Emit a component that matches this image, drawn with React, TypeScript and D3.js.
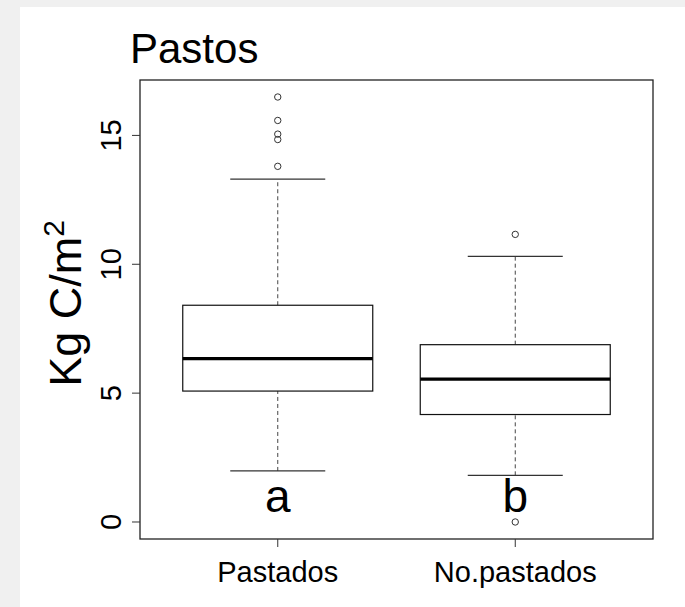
import React, { useEffect, useRef } from "react";
import * as d3 from "d3";

// boxplot summaries
const groups = ["Pastados", "No.pastados"];
const lowWhisker = [1.98, 1.81];
const q1 = [5.08, 4.17];
const medians = [6.34, 5.54];
const q3 = [8.41, 6.88];
const highWhisker = [13.3, 10.31];
const outliers = [
  [13.8, 14.84, 15.05, 15.58, 16.49],
  [0.0, 11.16],
];
const letters = ["a", "b"];
const yTicks = [0, 5, 10, 15];

const W = 685;
const H = 607;
const FONT = "'Liberation Sans', Arial, sans-serif";

const App = () => {
  const svgRef = useRef<SVGSVGElement | null>(null);

  useEffect(() => {
    const svg = d3.select(svgRef.current);
    svg.selectAll("*").remove();

    const margin = { top: 80, right: 32, bottom: 68, left: 140 };
    const left = margin.left;
    const right = W - margin.right;
    const top = margin.top;
    const bottom = H - margin.bottom;

    // outer grey area + white panel
    svg.append("rect").attr("width", W).attr("height", H).attr("fill", "#f0f0f0");
    svg.append("rect").attr("x", 20).attr("y", 7).attr("width", W - 20).attr("height", H - 7).attr("fill", "#fff");

    const x = d3.scaleLinear().domain([0.42, 2.58]).range([left, right]);
    const y = d3.scaleLinear().domain([-0.66, 17.15]).range([bottom, top]);

    const boxW = 0.4;
    const stapleW = 0.2;

    const data = groups.map((g, i) => ({
      key: g,
      pos: i + 1,
      lo: lowWhisker[i],
      q1: q1[i],
      med: medians[i],
      q3: q3[i],
      hi: highWhisker[i],
      out: outliers[i],
      letter: letters[i],
    }));

    const g = svg.append("g");

    data.forEach((d) => {
      const cx = x(d.pos);
      // whiskers
      [[d.lo, d.q1], [d.q3, d.hi]].forEach(([a, b]) => {
        g.append("line")
          .attr("x1", cx).attr("x2", cx)
          .attr("y1", y(a)).attr("y2", y(b))
          .attr("stroke", "#444")
          .attr("stroke-width", 1)
          .attr("stroke-dasharray", "4,3");
      });
      // staples
      [d.lo, d.hi].forEach((v) => {
        g.append("line")
          .attr("x1", x(d.pos - stapleW)).attr("x2", x(d.pos + stapleW))
          .attr("y1", y(v)).attr("y2", y(v))
          .attr("stroke", "#333")
          .attr("stroke-width", 1.2);
      });
      // box
      g.append("rect")
        .attr("x", x(d.pos - boxW))
        .attr("y", y(d.q3))
        .attr("width", x(d.pos + boxW) - x(d.pos - boxW))
        .attr("height", y(d.q1) - y(d.q3))
        .attr("fill", "#fff")
        .attr("stroke", "#111")
        .attr("stroke-width", 1.2);
      // median
      g.append("line")
        .attr("x1", x(d.pos - boxW)).attr("x2", x(d.pos + boxW))
        .attr("y1", y(d.med)).attr("y2", y(d.med))
        .attr("stroke", "#000")
        .attr("stroke-width", 3.3);
      // outliers
      g.selectAll(null)
        .data(d.out)
        .enter()
        .append("circle")
        .attr("cx", cx)
        .attr("cy", (v) => y(v))
        .attr("r", 3.2)
        .attr("fill", "none")
        .attr("stroke", "#333")
        .attr("stroke-width", 1);
      // group letter
      g.append("text")
        .attr("x", cx)
        .attr("y", y(0.38))
        .attr("text-anchor", "middle")
        .style("font-family", FONT)
        .style("font-size", "46px")
        .style("fill", "#000")
        .text(d.letter);
    });

    // frame
    svg.append("rect")
      .attr("x", left).attr("y", top)
      .attr("width", right - left).attr("height", bottom - top)
      .attr("fill", "none")
      .attr("stroke", "#222")
      .attr("stroke-width", 1.3);

    // y axis
    const ya = svg.append("g");
    yTicks.forEach((t) => {
      ya.append("line")
        .attr("x1", left - 8).attr("x2", left)
        .attr("y1", y(t)).attr("y2", y(t))
        .attr("stroke", "#333");
      ya.append("text")
        .attr("transform", `translate(${left - 19}, ${y(t)}) rotate(-90)`)
        .attr("text-anchor", "middle")
        .style("font-family", FONT)
        .style("font-size", "29px")
        .style("fill", "#000")
        .text(t);
    });

    // x axis
    const xa = svg.append("g");
    data.forEach((d) => {
      xa.append("line")
        .attr("x1", x(d.pos)).attr("x2", x(d.pos))
        .attr("y1", bottom).attr("y2", bottom + 8)
        .attr("stroke", "#333");
      xa.append("text")
        .attr("x", x(d.pos))
        .attr("y", bottom + 43)
        .attr("text-anchor", "middle")
        .style("font-family", FONT)
        .style("font-size", "29px")
        .style("fill", "#000")
        .text(d.key);
    });

    // y label
    const yl = svg.append("text")
      .attr("transform", `translate(81, ${(top + bottom) / 2 - 6}) rotate(-90)`)
      .attr("text-anchor", "middle")
      .style("font-family", FONT)
      .style("font-size", "45px")
      .style("fill", "#000");
    yl.append("tspan").text("Kg C/m");
    yl.append("tspan").attr("dy", -17).style("font-size", "30px").text("2");

    // title
    svg.append("text")
      .attr("x", 130)
      .attr("y", 63)
      .style("font-family", FONT)
      .style("font-size", "42px")
      .style("fill", "#000")
      .text("Pastos");
  }, []);

  return (
    <div style={{ position: "absolute", left: 0, top: 0 }}>
      <svg ref={svgRef} width={W} height={H} style={{ display: "block" }}></svg>
    </div>
  );
};

export default App;
